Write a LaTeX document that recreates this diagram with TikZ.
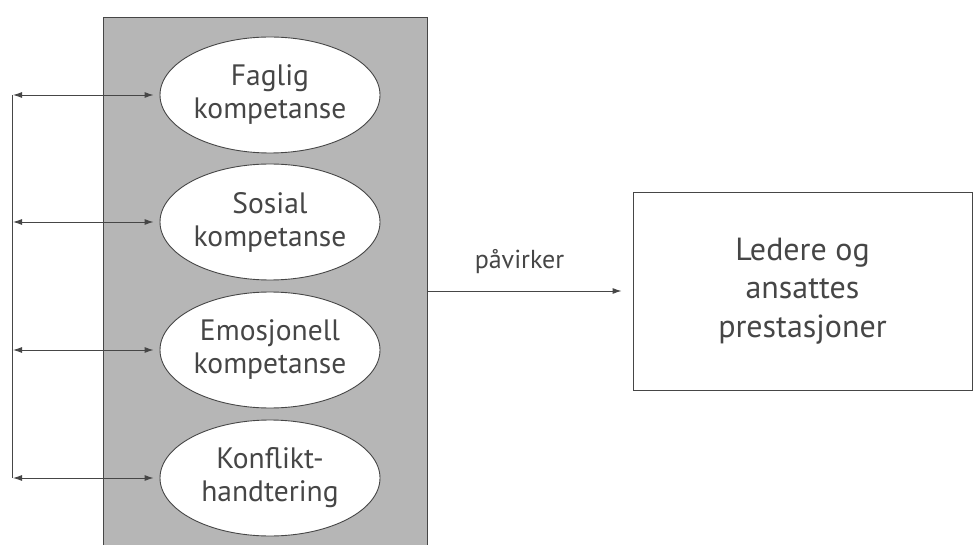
\documentclass[tikz,border=0pt]{standalone}
\usepackage{fontspec}
\setmainfont{PT Sans}
\usetikzlibrary{shapes.geometric,arrows.meta}
\definecolor{panel}{RGB}{182,182,182}
\definecolor{ink}{RGB}{70,70,70}
\tikzset{
  x=1pt, y=-1pt,
  comp/.style={ellipse, draw=ink, line width=0.9pt, fill=white,
    minimum width=220pt, minimum height=116pt, inner sep=0pt,
    align=center, font=\fontsize{29.5}{33}\selectfont, text=ink},
  result/.style={draw=ink, line width=0.9pt, minimum width=339pt,
    minimum height=198pt, align=center,
    font=\fontsize{32}{38.5}\selectfont, text=ink},
  link/.style={draw=ink, line width=0.9pt},
  tip/.style={-{Latex[length=9pt,width=6pt]}},
  twotip/.style={{Latex[length=9pt,width=6pt]}-{Latex[length=9pt,width=6pt]}},
}
\begin{document}
\begin{tikzpicture}
\useasboundingbox (0,0) rectangle (974,545);
% shaded panel, running off the bottom edge
\fill[panel] (103,17) rectangle (427,545);
\draw[link] (103,545) -- (103,17) -- (427,17) -- (427,545);

% competence ellipses
\node[comp] (e1) at (270,95)  {Faglig\\kompetanse};
\node[comp] (e2) at (270,222) {Sosial\\kompetanse};
\node[comp] (e3) at (270,350) {Emosjonell\\kompetanse};
\node[comp] (e4) at (270,478) {Konflikt-\\handtering};

% outcome box
\node[result] (out) at (802.5,291) {Ledere og\\ansattes\\prestasjoner};

% feedback bus on the left
\coordinate (l1) at (12,95);
\coordinate (l2) at (12,222);
\coordinate (l3) at (12,350);
\coordinate (l4) at (12,478);
\draw[link] (l1) -- (l4);
\foreach \i in {1,2,3,4}
  \draw[link,twotip,shorten >=6pt,shorten <=1pt] (l\i) -- (e\i.west);

% influence arrow
\coordinate (p) at (427,291);
\draw[link,tip,shorten >=11pt] (p) -- (out.west)
  node[pos=0.45, above=14pt, font=\fontsize{26}{30}\selectfont, text=ink] (lab) {påvirker};
\end{tikzpicture}
\end{document}
